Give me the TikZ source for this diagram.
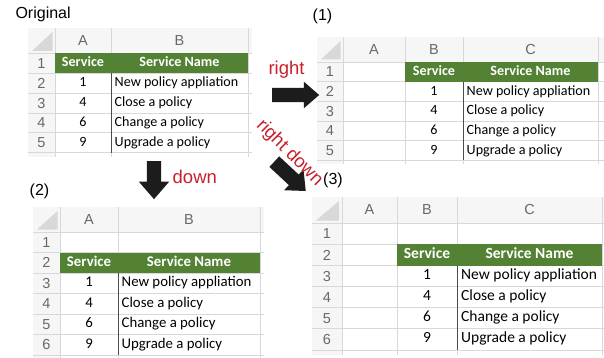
\documentclass[tikz,border=0pt]{standalone}
\usepackage{fontspec}
\setmainfont{Carlito}
\newfontfamily\arialf{Liberation Sans}
\usetikzlibrary{shapes.arrows}
\definecolor{hdgreen}{RGB}{84,130,53}
\definecolor{gridc}{RGB}{216,216,216}
\definecolor{hdbgc}{RGB}{246,246,246}
\definecolor{cornerc}{RGB}{216,216,216}
\definecolor{labc}{RGB}{105,105,105}
\definecolor{redc}{RGB}{200,32,44}
\definecolor{arrowc}{RGB}{28,28,28}
\begin{document}
\begin{tikzpicture}[x=1pt,y=-1pt,
    sheetline/.style={draw=gridc,line width=0.8pt},
    hdbg/.style={fill=hdbgc},
    cornertri/.style={fill=cornerc},
    hdrow/.style={fill=hdgreen},
    cellsep/.style={draw=black!70,line width=0.6pt},
    colnm/.style={font=\arialf\fontsize{14.5}{16}\selectfont,text=labc,inner sep=0pt},
    hdtxt/.style={text=white,inner sep=0pt,text height=10pt,text depth=3pt,execute at begin node=\bfseries},
    numtxt/.style={inner sep=0pt,text height=10pt,text depth=3pt},
    nametxt/.style={numtxt,anchor=west},
    caption/.style={font=\arialf\fontsize{16}{18}\selectfont},
    redlbl/.style={font=\arialf\fontsize{18.5}{20}\selectfont,text=redc,inner sep=1pt},
    blockarrow/.style={single arrow,fill=arrowc,draw=none,inner xsep=0pt,inner ysep=7pt,
        single arrow tip angle=82,minimum height=#1}]
    \fill[white] (0,0) rectangle (604,358);
    \useasboundingbox (0,0) rectangle (604,358);
    %% Original
    \begin{scope}[font=\fontsize{14.1}{16}\selectfont]
        \node[caption,anchor=base west] (org) at (12,18.3) {Original};
        \fill[hdbg] (28,28) rectangle (252,53.5);
        \fill[hdbg] (28,53.5) rectangle (55,157);
        \fill[cornertri] (52.5,32) -- (52.5,51) -- (32,51) -- cycle;
        \foreach \i in {0,...,5} \draw[sheetline] (28,{53.5+19.84*\i}) -- (252,{53.5+19.84*\i});
        \foreach \x in {55,111,248} \draw[sheetline] (\x,28) -- (\x,157);
        \fill[hdrow] (55,53.5) rectangle (248,73.34);
        \draw[cellsep] (111,73.34) -- (111,152.7);
        \node[colnm] (orgA) at (83,41) {A};
        \node[colnm] (orgB) at (179.5,41) {B};
        \foreach \i in {1,...,5} \node[colnm] (orgr\i) at (41.5,{53.5+19.84*(\i-0.5)}) {\i};
        \node[hdtxt] (orgsv) at (83,63.4) {Service};
        \node[hdtxt] (orgsn) at (179.5,63.4) {Service Name};
        \foreach \n/\s [count=\i] in {1/New policy appliation,4/Close a policy,6/Change a policy,9/Upgrade a policy} {
            \node[numtxt] (orgn\i) at (83,{73.34+19.84*(\i-0.5)}) {\n};
            \node[nametxt] (orgs\i) at (114.5,{73.34+19.84*(\i-0.5)}) {\s};
        }
    \end{scope}
    %% (1) shifted right
    \begin{scope}[font=\fontsize{14.1}{16}\selectfont]
        \node[caption] (one) at (322.5,16.5) {(1)};
        \fill[hdbg] (317,37) rectangle (604,62);
        \fill[hdbg] (317,62) rectangle (343,164);
        \fill[cornertri] (340.5,41) -- (340.5,59.5) -- (321,59.5) -- cycle;
        \foreach \i in {0,...,5} \draw[sheetline] (317,{62+19.7*\i}) -- (604,{62+19.7*\i});
        \foreach \x in {343,405,463,598} \draw[sheetline] (\x,37) -- (\x,164);
        \fill[hdrow] (405,62) rectangle (598,81.7);
        \draw[cellsep] (463,81.7) -- (463,160.5);
        \node[colnm] (oneA) at (374,49.5) {A};
        \node[colnm] (oneB) at (434,49.5) {B};
        \node[colnm] (oneC) at (530.5,49.5) {C};
        \foreach \i in {1,...,5} \node[colnm] (oner\i) at (330,{62+19.7*(\i-0.5)}) {\i};
        \node[hdtxt] (onesv) at (434,71.9) {Service};
        \node[hdtxt] (onesn) at (530.5,71.9) {Service Name};
        \foreach \n/\s [count=\i] in {1/New policy appliation,4/Close a policy,6/Change a policy,9/Upgrade a policy} {
            \node[numtxt] (onen\i) at (434,{81.7+19.7*(\i-0.5)}) {\n};
            \node[nametxt] (ones\i) at (466.5,{81.7+19.7*(\i-0.5)}) {\s};
        }
    \end{scope}
    %% (2) shifted down
    \begin{scope}[font=\fontsize{14.8}{16}\selectfont]
        \node[caption] (two) at (39.5,191) {(2)};
        \fill[hdbg] (33,207) rectangle (264,232);
        \fill[hdbg] (33,232) rectangle (60,358);
        \fill[cornertri] (57.5,211) -- (57.5,229.5) -- (37,229.5) -- cycle;
        \foreach \i in {0,...,6} \draw[sheetline] (33,{232+20.5*\i}) -- (264,{232+20.5*\i});
        \foreach \x in {60,118,260} \draw[sheetline] (\x,207) -- (\x,358);
        \fill[hdrow] (60,252.5) rectangle (260,273);
        \draw[cellsep] (118,273) -- (118,355);
        \node[colnm] (twoA) at (89,219.5) {A};
        \node[colnm] (twoB) at (189,219.5) {B};
        \foreach \i in {1,...,6} \node[colnm] (twor\i) at (46.5,{232+20.5*(\i-0.5)}) {\i};
        \node[hdtxt] (twosv) at (89,262.75) {Service};
        \node[hdtxt] (twosn) at (189,262.75) {Service Name};
        \foreach \n/\s [count=\i] in {1/New policy appliation,4/Close a policy,6/Change a policy,9/Upgrade a policy} {
            \node[numtxt] (twon\i) at (89,{273+20.5*(\i-0.5)}) {\n};
            \node[nametxt] (twos\i) at (121.5,{273+20.5*(\i-0.5)}) {\s};
        }
    \end{scope}
    %% (3) shifted right and down
    \begin{scope}[font=\fontsize{15.5}{17}\selectfont]
        \node[caption] (thr) at (333,180) {(3)};
        \fill[hdbg] (312,197) rectangle (604,223.3);
        \fill[hdbg] (312,223.3) rectangle (342,355);
        \fill[cornertri] (339,201) -- (339,220.5) -- (316,220.5) -- cycle;
        \foreach \i in {0,...,6} \draw[sheetline] (312,{223.3+21.1*\i}) -- (604,{223.3+21.1*\i});
        \foreach \x in {342,397,457.5,602} \draw[sheetline] (\x,197) -- (\x,355);
        \fill[hdrow] (397,244.4) rectangle (602,265.5);
        \draw[cellsep] (457.5,265.5) -- (457.5,349.9);
        \node[colnm] (thrA) at (369.5,210) {A};
        \node[colnm] (thrB) at (427,210) {B};
        \node[colnm] (thrC) at (529.5,210) {C};
        \foreach \i in {1,...,6} \node[colnm] (thrr\i) at (327,{223.3+21.1*(\i-0.5)}) {\i};
        \node[hdtxt] (thrsv) at (427,255) {Service};
        \node[hdtxt] (thrsn) at (529.5,255) {Service Name};
        \foreach \n/\s [count=\i] in {1/New policy appliation,4/Close a policy,6/Change a policy,9/Upgrade a policy} {
            \node[numtxt] (thrn\i) at (427,{265.5+21.1*(\i-0.5)}) {\n};
            \node[nametxt] (thrs\i) at (461,{265.5+21.1*(\i-0.5)}) {\s};
        }
    \end{scope}
    %% Arrows
    \node[blockarrow=47pt,single arrow head extend=6pt] (rarrow) at (291.5,95) {};
    \node[redlbl,anchor=base] (rlbl) at (286.5,74.5) {right};
    \node[blockarrow=38pt,single arrow head extend=8pt,rotate=-90] (darrow) at (154,176) {};
    \node[redlbl,anchor=base west] (dlbl) at (171.5,183) {down};
    \node[blockarrow=43pt,single arrow head extend=7pt,rotate=-43] (rdarrow) at (287,173.5) {};
    \node[redlbl,rotate=-45] (rdlbl) at (289.5,153) {right down};
\end{tikzpicture}
\end{document}
